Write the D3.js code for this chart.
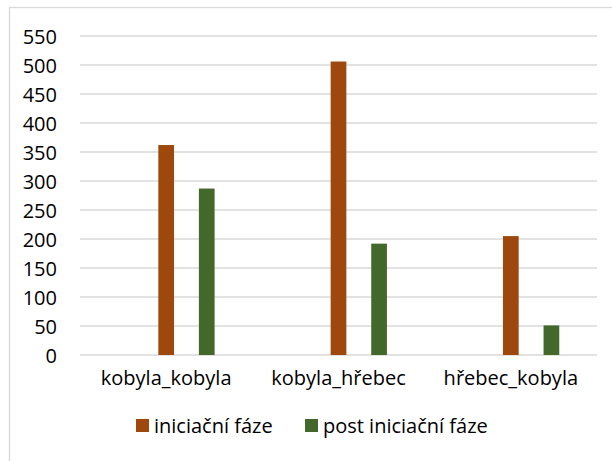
<!DOCTYPE html>
<html>
<head>
<meta charset="utf-8">
<script src="https://cdn.jsdelivr.net/npm/d3@7"></script>
<style>
  body { margin: 0; background: #fff; }
  svg text { font-family: "Open Sans", "Noto Sans", sans-serif; fill: #000; }
</style>
</head>
<body>
<svg id="chart" width="612" height="461"></svg>
<script>
// data
var categories = ["kobyla_kobyla", "kobyla_hřebec", "hřebec_kobyla"];
var seriesNames = ["iniciační fáze", "post iniciační fáze"];
var iniciacni = [362, 506, 205];
var postIniciacni = [287, 192, 51];
var yTicks = [0, 50, 100, 150, 200, 250, 300, 350, 400, 450, 500, 550];

var color = d3.scaleOrdinal()
    .domain(seriesNames)
    .range(["#9e480e", "#43682b"]);

var svg = d3.select("#chart");

// chart frame (cut at right and bottom like the original)
svg.append("rect")
    .attr("x", 9.5).attr("y", 7.5)
    .attr("width", 640).attr("height", 480)
    .attr("fill", "none")
    .attr("stroke", "#d9d9d9")
    .attr("stroke-width", 1.3);

var margin = {left: 80, right: 15, top: 36, bottom: 106};
var width = 612 - margin.left - margin.right,
    height = 461 - margin.top - margin.bottom;

var g = svg.append("g")
    .attr("transform", "translate(" + margin.left + "," + margin.top + ")");

var x0 = d3.scaleBand()
    .domain(categories)
    .range([0, width])
    .padding(0);

// first slot empty, so the bars sit centre / right in each group
var x1 = d3.scaleBand()
    .domain(["", seriesNames[0], seriesNames[1]])
    .range([0, x0.bandwidth()])
    .paddingInner(0.613)
    .paddingOuter(0.93);

var y = d3.scaleLinear()
    .domain([0, 550])
    .range([height, 0]);

// gridlines
g.append("g")
    .selectAll("line")
    .data(yTicks)
    .enter().append("line")
    .attr("x1", 0).attr("x2", width)
    .attr("y1", function(d){ return y(d); })
    .attr("y2", function(d){ return y(d); })
    .attr("stroke", "#d9d9d9")
    .attr("stroke-width", 1.4);

// y axis
var yAxis = d3.axisLeft(y).tickValues(yTicks).tickSize(0).tickPadding(23);
var gY = g.append("g").call(yAxis);
gY.select(".domain").remove();
gY.selectAll("text")
    .style("font-size", "20px")
    .attr("dy", "0.35em");

// x axis
var xAxis = d3.axisBottom(x0).tickSize(0).tickPadding(16);
var gX = g.append("g")
    .attr("transform", "translate(0," + height + ")")
    .call(xAxis);
gX.select(".domain").remove();
gX.selectAll("text")
    .style("font-size", "20px");

// bars
var rows = categories.map(function(c, i){
    return {cat: c, values: [
        {name: seriesNames[0], value: iniciacni[i]},
        {name: seriesNames[1], value: postIniciacni[i]}
    ]};
});

var groups = g.selectAll(".grp")
    .data(rows)
    .enter().append("g")
    .attr("class", "grp")
    .attr("transform", function(d){ return "translate(" + x0(d.cat) + ",0)"; });

groups.selectAll("rect")
    .data(function(d){ return d.values; })
    .enter().append("rect")
    .attr("x", function(d){ return x1(d.name); })
    .attr("width", x1.bandwidth())
    .attr("y", function(d){ return y(d.value); })
    .attr("height", function(d){ return height - y(d.value); })
    .attr("fill", function(d){ return color(d.name); });

// legend
var legendX = [136, 305];
var legend = svg.append("g")
    .selectAll("g")
    .data(seriesNames)
    .enter().append("g")
    .attr("transform", function(d, i){ return "translate(" + legendX[i] + ",419)"; });

legend.append("rect")
    .attr("width", 13).attr("height", 13)
    .attr("fill", function(d){ return color(d); });

legend.append("text")
    .attr("x", 18)
    .attr("y", 13.5)
    .style("font-size", "20px")
    .text(function(d){ return d; });
</script>
</body>
</html>
